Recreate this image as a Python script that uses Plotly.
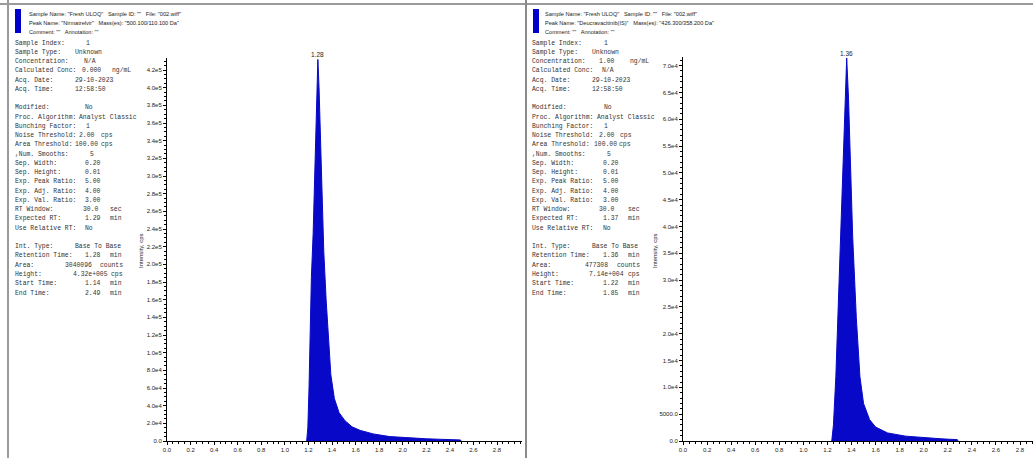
import plotly.graph_objects as go

W, H = 1033, 458

# ---------------- data ----------------
left_time = [1.185, 1.195, 1.205, 1.215, 1.225, 1.240, 1.255, 1.268, 1.280, 1.290, 1.300,
             1.315, 1.330, 1.350, 1.370, 1.390, 1.420, 1.460, 1.510, 1.570, 1.640, 1.750,
             1.890, 2.050, 2.200, 2.350, 2.490, 2.495]
left_intensity = [0, 15000, 60000, 120000, 185000, 235000, 320000, 385000, 432000, 400000, 350000,
                  280000, 215000, 160000, 110000, 75000, 48000, 32000, 23000, 16000, 12000, 8000,
                  5000, 3500, 2500, 1800, 1200, 0]

right_time = [1.236, 1.250, 1.270, 1.290, 1.310, 1.330, 1.345, 1.360, 1.375, 1.390, 1.410,
              1.440, 1.470, 1.500, 1.550, 1.600, 1.700, 1.850, 2.000, 2.150, 2.280, 2.285]
right_intensity = [0, 3000, 12000, 26000, 40000, 53000, 63000, 71400, 64000, 51000, 38000,
                   23000, 12000, 7000, 4000, 2600, 1500, 900, 600, 400, 250, 0]

left_peak_label = "1.28"
left_peak_rt = 1.28
left_peak_height = 432000
right_peak_label = "1.36"
right_peak_rt = 1.36
right_peak_height = 71400

x_tickvals = [0.0, 0.2, 0.4, 0.6, 0.8, 1.0, 1.2, 1.4, 1.6, 1.8, 2.0, 2.2, 2.4, 2.6, 2.8]
x_ticktext = ["0.0", "0.2", "0.4", "0.6", "0.8", "1.0", "1.2", "1.4", "1.6", "1.8", "2.0",
              "2.2", "2.4", "2.6", "2.8"]

left_y_tickvals = [0, 20000, 40000, 60000, 80000, 100000, 120000, 140000, 160000, 180000,
                   200000, 220000, 240000, 260000, 280000, 300000, 320000, 340000, 360000,
                   380000, 400000, 420000]
left_y_ticktext = ["0.0", "2.0e4", "4.0e4", "6.0e4", "8.0e4", "1.0e5", "1.2e5", "1.4e5", "1.6e5",
                   "1.8e5", "2.0e5", "2.2e5", "2.4e5", "2.6e5", "2.8e5", "3.0e5", "3.2e5",
                   "3.4e5", "3.6e5", "3.8e5", "4.0e5", "4.2e5"]

right_y_tickvals = [0, 5000, 10000, 15000, 20000, 25000, 30000, 35000, 40000, 45000, 50000,
                    55000, 60000, 65000, 70000]
right_y_ticktext = ["0.0", "5000.0", "1.0e4", "1.5e4", "2.0e4", "2.5e4", "3.0e4", "3.5e4",
                    "4.0e4", "4.5e4", "5.0e4", "5.5e4", "6.0e4", "6.5e4", "7.0e4"]

left_header = ['Sample Name: "Fresh ULOQ"   Sample ID: ""   File: "002.wiff"',
               'Peak Name: "Nirmatrelvir"   Mass(es): "500.100/110.100 Da"',
               'Comment: ""   Annotation: ""']
right_header = ['Sample Name: "Fresh ULOQ"   Sample ID: ""   File: "002.wiff"',
                'Peak Name: "Deucravacitinib(IS)"   Mass(es): "426.300/358.200 Da"',
                'Comment: ""   Annotation: ""']

info_labels = ["Sample Index:", "Sample Type:", "Concentration:", "Calculated Conc:", "Acq. Date:",
               "Acq. Time:", "", "Modified:", "Proc. Algorithm:", "Bunching Factor:",
               "Noise Threshold:", "Area Threshold:", ",Num. Smooths:", "Sep. Width:",
               "Sep. Height:", "Exp. Peak Ratio:", "Exp. Adj. Ratio:", "Exp. Val. Ratio:",
               "RT Window:", "Expected RT:", "Use Relative RT:", "", "Int. Type:",
               "Retention Time:", "Area:", "Height:", "Start Time:", "End Time:"]
left_values = ["1", "Unknown", "N/A", "0.000", "29-10-2023", "12:58:50", "", "No",
               "Analyst Classic", "1", "2.00", "100.00", "5", "0.20", "0.01", "5.00", "4.00",
               "3.00", "30.0", "1.29", "No", "", "Base To Base", "1.28", "3040096",
               "4.32e+005", "1.14", "2.49"]
right_values = ["1", "Unknown", "1.00", "N/A", "29-10-2023", "12:58:50", "", "No",
                "Analyst Classic", "1", "2.00", "100.00", "5", "0.20", "0.01", "5.00", "4.00",
                "3.00", "30.0", "1.37", "No", "", "Base To Base", "1.36", "477308",
                "7.14e+004", "1.22", "1.85"]
left_units = ["", "", "", "ng/mL", "", "", "", "", "", "", "cps", "cps", "", "", "", "", "", "",
              "sec", "min", "", "", "", "min", "counts", "cps", "min", "min"]
right_units = ["", "", "ng/mL", "", "", "", "", "", "", "", "cps", "cps", "", "", "", "", "", "",
               "sec", "min", "", "", "", "min", "counts", "cps", "min", "min"]

# ---------------- layout helpers ----------------
def PX(x):
    return x / W

def PY(y):
    return 1 - y / H

BLUE = "#0808C8"
MONO = "Liberation Mono, DejaVu Sans Mono, monospace"
SANS = "Liberation Sans Narrow, Arial Narrow, Liberation Sans, Arial, sans-serif"
TXT = "#222222"
MTXT = "#333333"

fig = go.Figure()
fig.add_trace(go.Scatter(x=left_time, y=left_intensity, mode="lines", fill="tozeroy",
                         line=dict(color=BLUE, width=1), fillcolor=BLUE,
                         xaxis="x", yaxis="y", hoverinfo="skip", showlegend=False))
fig.add_trace(go.Scatter(x=right_time, y=right_intensity, mode="lines", fill="tozeroy",
                         line=dict(color=BLUE, width=1), fillcolor=BLUE,
                         xaxis="x2", yaxis="y2", hoverinfo="skip", showlegend=False))

y_dom = [PY(441), PY(58)]
common_axis = dict(showgrid=False, zeroline=False, showline=True, linecolor="black",
                   linewidth=1, ticks="outside", ticklen=3, tickcolor="black", tickwidth=1,
                   tickfont=dict(family=SANS, size=6, color=TXT), fixedrange=True,
                   automargin=False)

fig.update_layout(
    width=W, height=H, autosize=False, margin=dict(l=0, r=0, t=0, b=0, pad=0),
    paper_bgcolor="white", plot_bgcolor="white", showlegend=False,
    xaxis=dict(domain=[PX(167), PX(522)], range=[0, 3.012], anchor="y",
               tickmode="array", tickvals=x_tickvals, ticktext=x_ticktext,
               minor=dict(dtick=0.05, tick0=0, ticklen=2, tickcolor="black", ticks="outside"),
               **common_axis),
    yaxis=dict(domain=y_dom, range=[0, 433600], anchor="x",
               tickmode="array", tickvals=left_y_tickvals, ticktext=left_y_ticktext,
               minor=dict(dtick=5000, tick0=0, ticklen=2, tickcolor="black", ticks="outside"),
               **common_axis),
    xaxis2=dict(domain=[PX(683), 1.0], range=[0, 2.908], anchor="y2",
                tickmode="array", tickvals=x_tickvals, ticktext=x_ticktext,
                minor=dict(dtick=0.05, tick0=0, ticklen=2, tickcolor="black", ticks="outside"),
                **common_axis),
    yaxis2=dict(domain=[PY(441), PY(57)], range=[0, 71600], anchor="x2",
                tickmode="array", tickvals=right_y_tickvals, ticktext=right_y_ticktext,
                minor=dict(dtick=1000, tick0=0, ticklen=2, tickcolor="black", ticks="outside"),
                **common_axis),
)

shapes = []
# window frame lines
shapes.append(dict(type="line", xref="paper", yref="paper", x0=0, x1=1, y0=PY(4), y1=PY(4),
                   line=dict(color="#9a9a9a", width=2)))
shapes.append(dict(type="line", xref="paper", yref="paper", x0=PX(8), x1=PX(8), y0=PY(0), y1=0,
                   line=dict(color="#9a9a9a", width=2)))
shapes.append(dict(type="line", xref="paper", yref="paper", x0=PX(526), x1=PX(526), y0=PY(0), y1=0,
                   line=dict(color="#8a8a8a", width=2)))
# blue header markers
for x0 in (15, 533):
    shapes.append(dict(type="rect", xref="paper", yref="paper", x0=PX(x0), x1=PX(x0 + 6),
                       y0=PY(33), y1=PY(9), fillcolor="#0000CC", line=dict(width=0)))
fig.update_layout(shapes=shapes)

ann = []
def txt(x, y, s, family=MONO, size=6.4, color=MTXT, anchor="left"):
    ann.append(dict(x=PX(x), y=PY(y), xref="paper", yref="paper", text=s, showarrow=False,
                    xanchor=anchor, yanchor="middle", font=dict(family=family, size=size, color=color)))

# headers
for i, line in enumerate(left_header):
    txt(27, 14 + i * 8.8, line, family=SANS, size=5.6, color=TXT)
for i, line in enumerate(right_header):
    txt(543, 14 + i * 8.8, line, family=SANS, size=5.6, color=TXT)

# info blocks
left_val_x = [84, 73, 82, 80, 73, 73, 0, 83, 77, 84, 77, 73, 88, 83, 83, 83, 83, 83, 81, 83, 83,
              0, 73, 83, 63, 71, 83, 83]
left_unit_x = [0, 0, 0, 110, 0, 0, 0, 0, 0, 0, 99, 99, 0, 0, 0, 0, 0, 0, 108, 108, 0, 0, 0, 108,
               98, 109, 108, 108]
right_val_x = [602, 590, 597, 600, 590, 590, 0, 602, 595, 602, 597, 592, 605, 601, 601, 601, 601,
               601, 597, 601, 601, 0, 590, 601, 583, 587, 601, 601]
right_unit_x = [0, 0, 628, 0, 0, 0, 0, 0, 0, 0, 618, 617, 0, 0, 0, 0, 0, 0, 626, 626, 0, 0, 0,
                626, 615, 626, 626, 626]

for i, lab in enumerate(info_labels):
    y = 43 + i * 9.26
    if lab:
        txt(13, y, lab)
        txt(530, y, lab)
    if left_values[i]:
        txt(left_val_x[i], y, left_values[i])
    if right_values[i]:
        txt(right_val_x[i], y, right_values[i])
    if left_units[i]:
        txt(left_unit_x[i], y, left_units[i])
    if right_units[i]:
        txt(right_unit_x[i], y, right_units[i])

# axis titles (rotated)
for x in (141, 655):
    ann.append(dict(x=PX(x), y=PY(251), xref="paper", yref="paper", text="Intensity, cps",
                    showarrow=False, textangle=-90, xanchor="center", yanchor="middle",
                    font=dict(family=SANS, size=6, color=TXT)))

# peak labels
ann.append(dict(x=left_peak_rt, y=left_peak_height, xref="x", yref="y", text=left_peak_label,
                showarrow=False, yanchor="bottom", yshift=-1,
                font=dict(family=SANS, size=6.5, color=TXT)))
ann.append(dict(x=right_peak_rt, y=right_peak_height, xref="x2", yref="y2", text=right_peak_label,
                showarrow=False, yanchor="bottom", yshift=-1,
                font=dict(family=SANS, size=6.5, color=TXT)))

fig.update_layout(annotations=ann)
fig.write_html("out.html", config={"displayModeBar": False},
               post_script="document.body.style.margin='0';document.body.style.overflow='hidden';")
